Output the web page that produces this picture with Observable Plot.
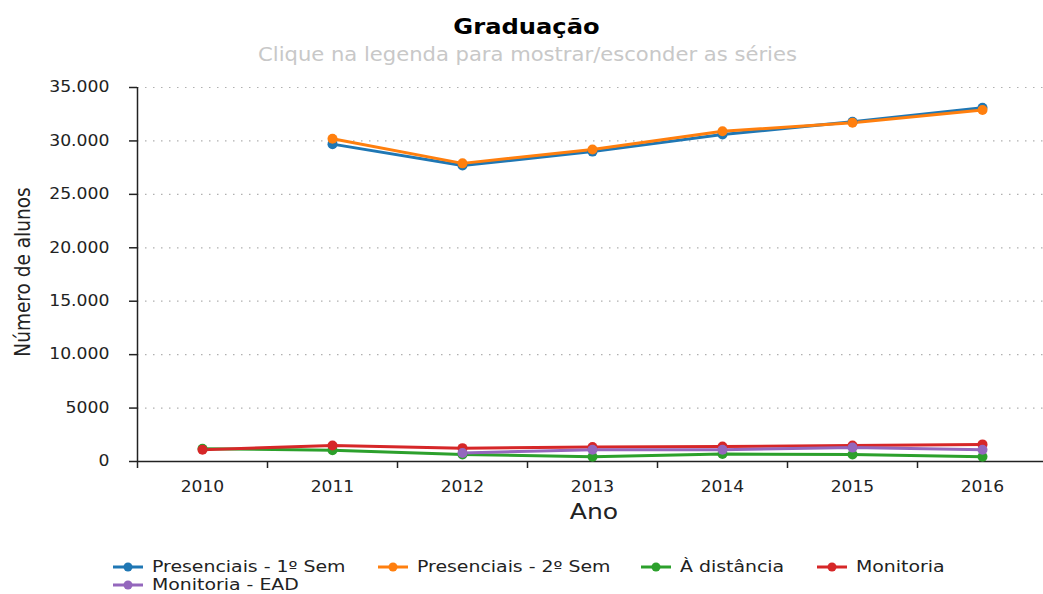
<!DOCTYPE html>
<html>
<head>
<meta charset="utf-8">
<script src="https://cdn.jsdelivr.net/npm/d3@7"></script>
<script src="https://cdn.jsdelivr.net/npm/@observablehq/plot@0.6"></script>
<style>
  html, body { margin: 0; padding: 0; background: #fff; }
  #wrap { position: relative; width: 1043px; height: 594px; overflow: hidden; font-family: "DejaVu Sans", Verdana, sans-serif; }
  #wrap svg.plot { position: absolute; left: 0; top: 0; }
  .abs { position: absolute; white-space: nowrap; }
  #title { left: 0; width: 1053px; text-align: center; top: 14px; font-size: 22px; font-weight: bold; color: #000; transform: scaleX(1.1); }
  #subtitle { left: 0; width: 1055px; text-align: center; top: 43px; font-size: 19px; color: #c8c8c8; transform: scaleX(1.11); }
  #ylabel { left: 23px; top: 272px; font-size: 18.5px; color: #222; transform: translate(-50%, -50%) rotate(-90deg) scaleY(1.12); }
  #xlabel { left: 594px; top: 511px; font-size: 22px; color: #222; transform: translate(-50%, -50%) scaleX(1.14); }
  .leg { position: absolute; font-size: 16px; line-height: 18px; color: #222; display: flex; align-items: center; }
  .leg svg { margin-right: 9px; }
  .leg span { display: inline-block; transform: scaleX(1.18); transform-origin: left center; }
</style>
</head>
<body>
<div id="wrap">
  <div id="title" class="abs">Graduação</div>
  <div id="subtitle" class="abs">Clique na legenda para mostrar/esconder as séries</div>
  <div id="ylabel" class="abs">Número de alunos</div>
  <div id="xlabel" class="abs">Ano</div>
</div>
<script>
// ---- data ----
const years = [2010, 2011, 2012, 2013, 2014, 2015, 2016];
const seriesNames = ["Presenciais - 1º Sem", "Presenciais - 2º Sem", "À distância", "Monitoria", "Monitoria - EAD"];
const seriesColors = ["#1f77b4", "#ff7f0e", "#2ca02c", "#d62728", "#9467bd"];
const presenciais1 = [null, 29700, 27700, 29000, 30600, 31800, 33100];
const presenciais2 = [null, 30200, 27900, 29200, 30900, 31700, 32900];
const distancia    = [1200, 1050, 650, 450, 700, 650, 450];
const monitoria    = [1100, 1500, 1250, 1350, 1400, 1500, 1600];
const monitoriaEAD = [null, null, 800, 1100, 1100, 1300, 1100];
const yTicks = [0, 5000, 10000, 15000, 20000, 25000, 30000, 35000];

const seriesValues = [presenciais1, presenciais2, distancia, monitoria, monitoriaEAD];
const rows = [];
seriesNames.forEach((name, si) => {
  seriesValues[si].forEach((v, i) => {
    if (v != null) rows.push({series: name, year: years[i], value: v});
  });
});
const boundaries = years.map(y => y - 0.5).concat([years[years.length - 1] + 0.5]);
const fmt = d => d >= 10000 ? d3.format(",")(d).replace(/,/g, ".") : String(d);

const chart = Plot.plot({
  width: 1043,
  height: 594,
  marginTop: 87,
  marginBottom: 133,
  marginLeft: 137,
  marginRight: 0,
  style: {fontFamily: "DejaVu Sans, Verdana, sans-serif", background: "transparent", overflow: "visible"},
  x: {type: "linear", domain: [years[0] - 0.5, years[years.length - 1] + 0.5], range: [137, 1047]},
  y: {domain: [0, 35000]},
  color: {domain: seriesNames, range: seriesColors},
  marks: [
    Plot.gridY(yTicks.slice(1), {stroke: "#b0b0b0", strokeOpacity: 1, strokeDasharray: "1.5,6.5", strokeWidth: 1.2}),
    Plot.axisY(yTicks, {tickSize: 8, tickPadding: 20, tickFormat: fmt, fontSize: 15, color: "#222", stroke: "#222", strokeWidth: 1.5, label: null}),
    Plot.axisX(years, {tickSize: 0, tickPadding: 19, tickFormat: d => String(d), fontSize: 16, color: "#222", label: null}),
    Plot.axisX(boundaries, {tickSize: 7, tickFormat: () => "", stroke: "#222", strokeWidth: 1.5, label: null}),
    Plot.ruleY([0], {stroke: "#222", strokeWidth: 1.5}),
    Plot.ruleX([years[0] - 0.5], {stroke: "#222", strokeWidth: 1.5}),
    Plot.line(rows, {x: "year", y: "value", z: "series", stroke: "series", strokeWidth: 3}),
    Plot.dot(rows, {x: "year", y: "value", fill: "series", r: 5})
  ]
});
chart.classList.add("plot");
// widen tick label glyphs horizontally like the reference
chart.querySelectorAll('g[aria-label="y-axis tick label"] text').forEach(t => {
  const tr = t.getAttribute("transform");
  if (tr) t.setAttribute("transform", tr + " scale(1.15,1)");
});
chart.querySelectorAll('g[aria-label="x-axis tick label"] text').forEach(t => {
  const tr = t.getAttribute("transform");
  if (tr) t.setAttribute("transform", tr + " scale(1.07,1)");
});
const wrap = document.getElementById("wrap");
wrap.insertBefore(chart, wrap.firstChild);

// legend
const legendPos = [[113, 567], [378, 567], [641, 567], [817, 567], [113, 585]];
seriesNames.forEach((name, i) => {
  const d = document.createElement("div");
  d.className = "leg";
  d.style.left = legendPos[i][0] + "px";
  d.style.top = (legendPos[i][1] - 9) + "px";
  d.style.height = "18px";
  d.innerHTML = `<svg width="30" height="12"><line x1="0" x2="30" y1="6" y2="6" stroke="${seriesColors[i]}" stroke-width="3"/><circle cx="15" cy="6" r="4.5" fill="${seriesColors[i]}"/></svg><span>${name}</span>`;
  wrap.appendChild(d);
});
</script>
</body>
</html>
